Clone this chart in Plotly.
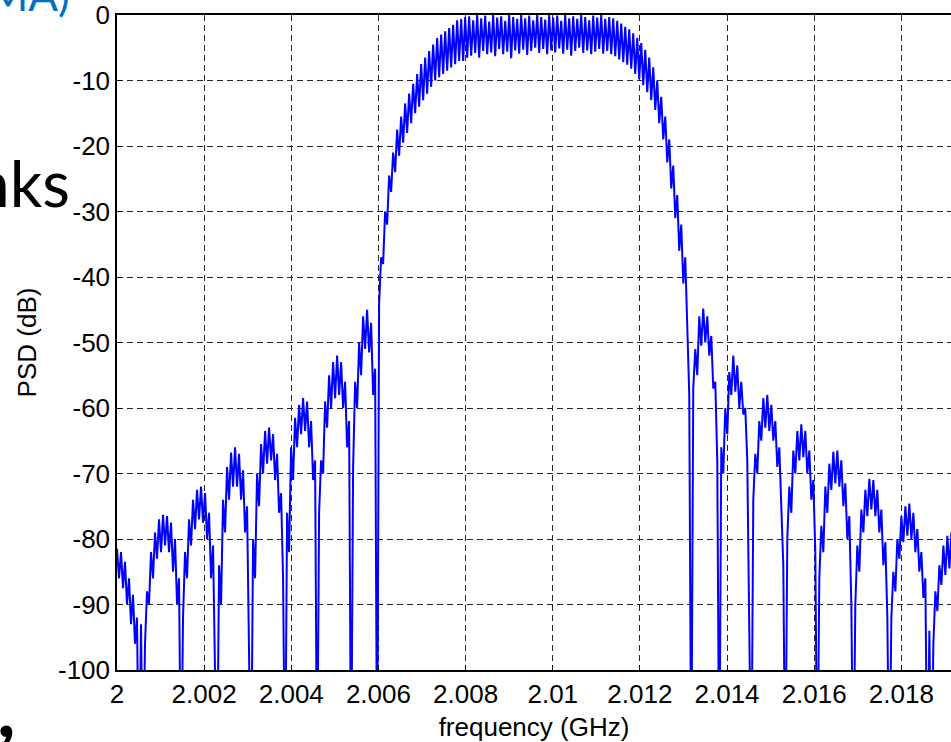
import numpy as np
import plotly.graph_objects as go

# Frequency bin grid (GHz) of the PSD estimate
f_start = 2.0
f_step = 4.592e-5

# PSD values in dB, one per frequency bin (deep nulls fall below the -100 dB floor)
psd_db = [
    # sidelobe region below 2.001 GHz
    -81.5, -86, -82, -87.5, -83.5, -90, -86, -93, -88.5, -96, -92, -120, -93, -120,
    -96, -88, -90, -82, -86, -79, -83, -77, -82, -76.3, -81, -76.5, -82, -77.5, -85, -80, -90, -86, -120,
    -92, -82, -86, -77, -81, -74, -78.5, -72.5, -77, -72, -77.5, -73, -80, -76, -86, -81, -95, -120,
    -84, -90, -74, -79, -69, -74, -66.8, -72, -66, -72, -67, -74, -69.5, -79, -75, -90, -120,
    -80, -86, -70, -75, -65.5, -70, -63.5, -68.5, -63, -68, -64, -71, -67, -76, -73, -86, -120,
    -76, -82, -66, -71, -61.5, -66, -59.5, -64, -58.5, -63.5, -59, -66, -62, -71, -68, -120,
    -76, -68, -70, -59, -63, -55, -60, -53, -58.5, -52, -58, -53, -60, -56, -66, -62, -120,
    -69, -56, -60, -50, -55, -46, -51, -45, -51.5, -47, -58, -54, -120,
    # main lobe, rising edge
    -44, -37, -38, -30, -32, -24.5, -27, -21, -24, -17.5, -21.5, -15.5, -19.5, -13.5, -18,
    -12, -16.5, -10.5, -15, -9, -14, -7.5, -13, -6.5, -12, -5.5, -11, -4.5, -10, -3.5,
    -9.5, -3, -9, -2.5, -8.5, -2, -8, -1.5, -7.5, -0.8, -7, -0.6, -7, -0.3, -6.5,
    # main lobe, flat top
    -0.2, -6.2, -0.8, -5.8, 0, -6.5, -0.5, -5.5, -0.1, -6, -1, -5.7, 0, -6.3, -0.4, -5.2,
    -0.2, -6, -0.9, -5.6, 0, -6.6, -0.3, -5.4, -0.6, -5.9, 0, -5.3, -0.5, -6.1, -0.1, -5.5,
    -0.8, -5, 0, -5.8, -0.3, -5.2, -0.7, -6, 0, -5.4, -0.4, -5.7, -0.1, -5.1, -0.9, -5.9,
    0, -5.3, -0.5, -6.2, -0.2, -5.5, -0.6, -5, 0, -5.8, -0.3, -5.4, -0.8, -6, -0.1, -5.6,
    -0.4, -5.2, 0, -5.9, -0.6, -5.5, -0.3,
    # main lobe, falling edge
    -6, -0.5, -6.3, -0.9, -6.8, -1.3, -7.2, -1.8, -7.6, -2.2, -8.2, -2.8, -9, -3.5, -9.8,
    -4.3, -10.7, -5.3, -11.8, -6.5, -13, -8, -14.5, -10, -16.5, -12.5, -19, -15.5, -22.5,
    -19, -26.5, -23, -31, -27.5, -36, -32, -41, -37, -47, -58, -120,
    # sidelobe region above 2.013 GHz
    -57, -51, -55, -46, -50.5, -44.8, -50, -46, -52, -49, -57, -56, -68, -120,
    -66, -70, -60, -64, -54.5, -58, -52, -57.5, -53.5, -60, -56, -61, -60, -68, -88, -120,
    -74, -67, -70, -62, -65, -58.5, -63, -58, -63.5, -59.5, -65, -62, -69, -66, -75, -84, -120,
    -80, -72, -76, -66.5, -70, -63.5, -68, -62.5, -67.5, -63.5, -70, -66.5, -74, -71, -82, -120,
    -86, -78, -82, -72, -76, -68.5, -72.5, -66.7, -71.5, -66.5, -72, -68, -75, -71.5, -80, -76.5, -90, -120,
    -90, -81, -85, -75.5, -79, -72.5, -76.5, -70.8, -75.5, -71, -76.5, -72.5, -79, -75.5, -84, -80.5, -92, -120,
    -92, -85, -88, -80, -83, -76.5, -80.5, -75, -79.5, -74.6, -80, -76, -82, -78.5, -85, -82, -89, -86, -120, -94, -120,
    -96, -88, -91, -84, -87, -81, -85.5, -79.5, -84.5, -79,
]

freq_ghz = f_start + f_step * np.arange(len(psd_db))

x_ticks = [2.0, 2.002, 2.004, 2.006, 2.008, 2.01, 2.012, 2.014, 2.016, 2.018]
x_tick_text = ["2", "2.002", "2.004", "2.006", "2.008", "2.01", "2.012", "2.014", "2.016", "2.018"]
y_ticks = [0, -10, -20, -30, -40, -50, -60, -70, -80, -90, -100]
y_tick_text = ["0", "-10", "-20", "-30", "-40", "-50", "-60", "-70", "-80", "-90", "-100"]

W, H = 951, 742
ML, MR, MT, MB = 117, 0, 15, 72
PW, PH = W - ML - MR, H - MT - MB


def px_x(px):
    return (px - ML) / PW


def px_y(py):
    return (H - MB - py) / PH


fig = go.Figure()
fig.add_trace(go.Scatter(
    x=freq_ghz, y=psd_db, mode="lines",
    line=dict(color="#0000ff", width=2.0),
    hoverinfo="skip", showlegend=False,
))

tick_font = dict(family="Liberation Sans, Arial, sans-serif", size=26, color="black")

fig.update_layout(
    width=W, height=H,
    margin=dict(l=ML, r=MR, t=MT, b=MB, pad=0),
    paper_bgcolor="white", plot_bgcolor="white",
    xaxis=dict(
        range=[2.0, 2.01914], tickvals=x_ticks, ticktext=x_tick_text,
        showgrid=True, gridcolor="#262626", gridwidth=1, griddash="6px,4px",
        showline=True, linecolor="black", linewidth=1.5, mirror=True,
        ticks="inside", ticklen=5, tickcolor="black", tickwidth=1,
        zeroline=False, tickfont=tick_font,
        title=dict(text="frequency (GHz)", font=tick_font, standoff=12),
    ),
    yaxis=dict(
        range=[-100, 0], tickvals=y_ticks, ticktext=y_tick_text,
        showgrid=True, gridcolor="#262626", gridwidth=1, griddash="6px,4px",
        showline=True, linecolor="black", linewidth=1.5, mirror=False,
        ticks="inside", ticklen=5, tickcolor="black", tickwidth=1,
        zeroline=False, tickfont=tick_font, ticklabelstandoff=0,
        title=dict(text="PSD (dB)", font=tick_font, standoff=14),
    ),
)

# Surrounding slide text
slide_font = "Lato, Open Sans, sans-serif"
fig.add_annotation(
    text="nks", xref="paper", yref="paper", x=px_x(72), y=px_y(183),
    xanchor="right", yanchor="middle", showarrow=False,
    font=dict(family=slide_font, size=64, color="black"),
)
fig.add_annotation(
    text="(OFDMA)", xref="paper", yref="paper", x=px_x(72), y=px_y(-6),
    xanchor="right", yanchor="middle", showarrow=False,
    font=dict(family=slide_font, size=44, color="#0070c0"),
)
fig.add_annotation(
    text="<b>,</b>", xref="paper", yref="paper", x=px_x(18), y=px_y(706),
    xanchor="right", yanchor="middle", showarrow=False,
    font=dict(family=slide_font, size=80, color="black"),
)

fig.write_html("out.html", config={"displayModeBar": False})
